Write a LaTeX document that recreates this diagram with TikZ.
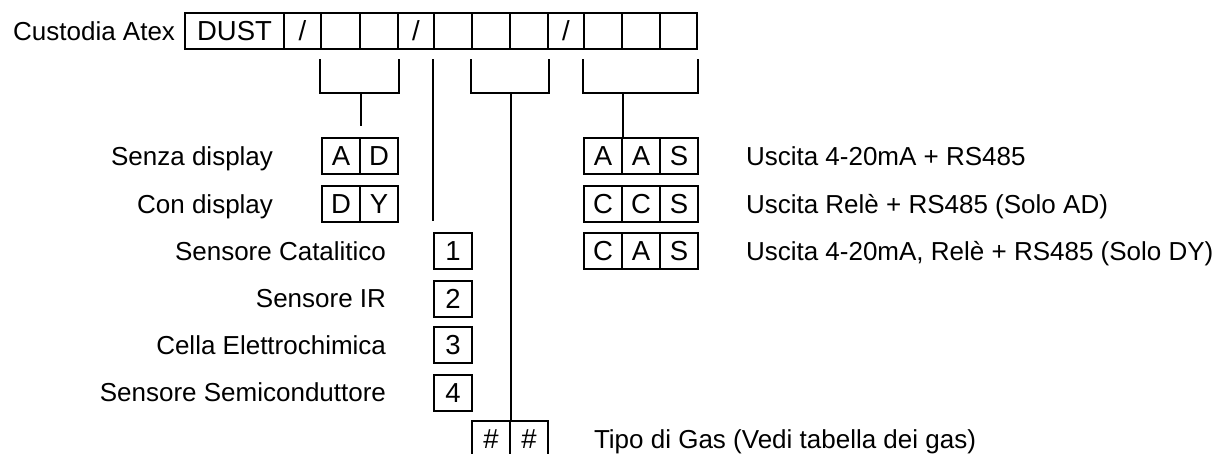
\documentclass[tikz,border=0pt]{standalone}
\usepackage{fontspec}
\setmainfont{Liberation Sans}
\newcommand\lblfont{\fontsize{26}{30}\selectfont}
\newcommand\cellfont{\fontsize{27.5}{31}\selectfont}
\begin{document}
\begin{tikzpicture}[x=1pt,y=-1pt,line width=2pt,
  cell/.style={draw,minimum width=#1,minimum height=36pt,inner sep=0pt,
    text height=19.7pt,text depth=0pt,font=\cellfont},
  cell/.default=38pt,
  lbl/.style={inner sep=0pt,text height=18.6pt,text depth=0pt,font=\lblfont}]
\clip (0,0) rectangle (1228,453);
% top row
\node[lbl,anchor=east] (title) at (176,31) {Custodia Atex};
\node[cell=99pt] (t0) at (234.5,31) {DUST};
\node[cell=37pt] (t1) at (302.5,31) {/};
\node[cell=39pt] (t2) at (340.5,31) {};
\node[cell=38pt] (t3) at (379,31) {};
\node[cell=36pt] (t4) at (416,31) {/};
\node[cell=38pt] (t5) at (453,31) {};
\node[cell=38pt] (t6) at (491,31) {};
\node[cell=38pt] (t7) at (529,31) {};
\node[cell=36pt] (t8) at (566,31) {/};
\node[cell=38pt] (t9) at (603,31) {};
\node[cell=38pt] (t10) at (641,31) {};
\node[cell=37pt] (t11) at (678.5,31) {};
% display options
\node[lbl,anchor=east] (lsd) at (274,156) {Senza display};
\node[cell] (ad1) at (341,156) {A};
\node[cell] (ad2) at (379,156) {D};
\node[lbl,anchor=east] (lcd) at (274,204) {Con display};
\node[cell] (dy1) at (341,204) {D};
\node[cell] (dy2) at (379,204) {Y};
% sensors
\node[lbl,anchor=east] (ls1) at (387,251) {Sensore Catalitico};
\node[cell] (n1) at (453,251) {1};
\node[lbl,anchor=east] (ls2) at (387,298.5) {Sensore IR};
\node[cell] (n2) at (453,298.5) {2};
\node[lbl,anchor=east] (ls3) at (387,345) {Cella Elettrochimica};
\node[cell] (n3) at (453,345) {3};
\node[lbl,anchor=east] (ls4) at (387,392.5) {Sensore Semiconduttore};
\node[cell] (n4) at (453,392.5) {4};
% gas
\node[cell] (g1) at (491,439) {\#};
\node[cell] (g2) at (529,439) {\#};
\node[lbl,anchor=west] (lg) at (593,439) {Tipo di Gas (Vedi tabella dei gas)};
% outputs
\node[cell] (o1) at (603,156) {A};
\node[cell] (o2) at (641,156) {A};
\node[cell] (o3) at (679,156) {S};
\node[lbl,anchor=west] (lo1) at (745,156) {Uscita 4-20mA + RS485};
\node[cell] (p1) at (603,204) {C};
\node[cell] (p2) at (641,204) {C};
\node[cell] (p3) at (679,204) {S};
\node[lbl,anchor=west] (lo2) at (745,204) {Uscita Relè + RS485 (Solo AD)};
\node[cell] (q1) at (603,251) {C};
\node[cell] (q2) at (641,251) {A};
\node[cell] (q3) at (679,251) {S};
\node[lbl,anchor=west] (lo3) at (745,251) {Uscita 4-20mA, Relè + RS485 (Solo DY)};
% connectors
\draw ([yshift=-9pt]t2.south west) |- ([yshift=-43pt]t3.south east) -- ([yshift=-9pt]t3.south east);
\draw ([yshift=-43pt]t2.south east) -- ([yshift=11pt]ad1.north east);
\draw ([yshift=-9pt]t5.south west) -- ([yshift=11pt]n1.north west);
\draw ([yshift=-9pt]t6.south west) |- ([yshift=-43pt]t7.south east) -- ([yshift=-9pt]t7.south east);
\draw ([yshift=-43pt]t6.south east) -- (g1.north east);
\draw ([yshift=-9pt]t9.south west) |- ([yshift=-43pt]t11.south east) -- ([yshift=-9pt]t11.south east);
\draw ([yshift=-43pt]t9.south east) -- (o1.north east);
\end{tikzpicture}
\end{document}
